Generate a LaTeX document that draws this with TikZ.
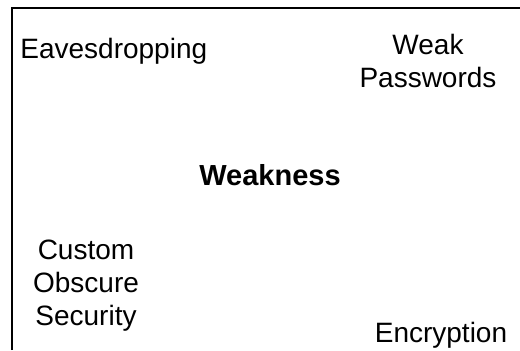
\documentclass[tikz,border=0pt]{standalone}
\usepackage{fontspec}
\setmainfont{Liberation Sans}
\begin{document}
\begin{tikzpicture}[x=0.5pt, y=-0.5pt,
    word/.style={inner sep=0pt, align=center, font=\fontsize{14}{16.5}\selectfont}]
      \useasboundingbox (0,0) rectangle (520,350);
      \draw[line width=1pt] (11.5,350) -- (11.5,7.5) -- (520,7.5);

      \node[word, anchor=base west] (eaves) at (20,58) {Eavesdropping};
      \node[word] (weakpw) at (428,61) {Weak\\Passwords};
      \node[word, anchor=base, font=\fontsize{14.5}{16.5}\selectfont\bfseries] (weak) at (270,185) {Weakness};
      \node[word] (custom) at (86,286) {Custom\\Obscure\\Security};
      \node[word, anchor=base] (encr) at (441,342) {Encryption};
    \end{tikzpicture}
\end{document}
